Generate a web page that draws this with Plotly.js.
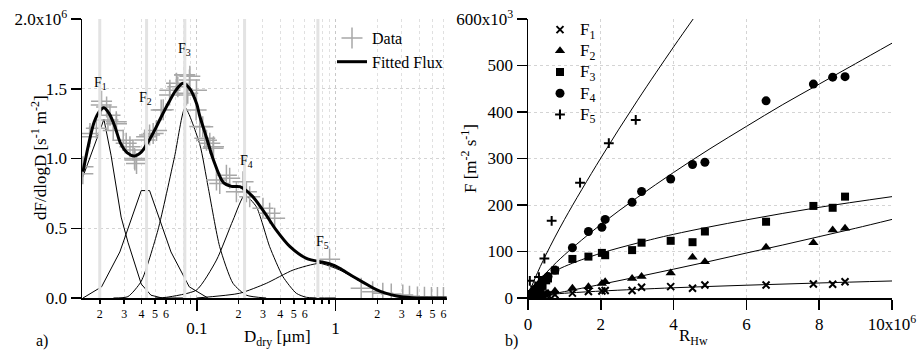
<!DOCTYPE html>
<html><head><meta charset="utf-8">
<script src="https://cdn.plot.ly/plotly-3.0.1.min.js"></script>
<style>html,body{margin:0;padding:0;background:#fff}#c{width:917px;height:363px}</style>
</head><body><div id="c"></div>
<script>
// ---------- Panel a) : size-resolved flux ----------
const dataD = [0.0151,0.01514,0.0169,0.0170,0.0189,0.0205,0.0206,0.0224,0.0229,0.0237,0.0250,0.0263,0.0264,0.0295,0.0310,0.0330,0.0347,0.0356,0.0358,0.0368,0.0421,0.0435,0.0457,0.0485,0.0513,0.0554,0.0573,0.0637,0.0640,0.0714,0.0730,0.0816,0.0820,0.0843,0.0861,0.0886,0.0891,0.0989,0.0995,0.1051,0.1104,0.1142,0.1175,0.1241,0.1310,0.1320,0.1386,0.1464,0.1635,0.1726,0.1930,0.2155,0.2278,0.2406,0.2998,0.3350,0.3639,0.906,1.53,1.85,2.19,2.52,3.05,3.41,3.89,4.37,4.91,5.42,5.99];
const dataF = [0.89,0.94,1.156,1.18,1.216,1.383,1.41,1.37,1.276,1.31,1.20,1.264,1.25,1.13,1.109,1.085,1.061,1.0,0.99,0.965,1.133,1.156,1.168,1.18,1.20,1.348,1.35,1.455,1.49,1.54,1.515,1.599,1.60,1.455,1.467,1.563,1.59,1.348,1.49,1.23,1.228,1.145,1.13,1.109,1.073,1.085,0.846,0.82,0.88,0.858,0.762,0.834,0.762,0.726,0.643,0.607,0.571,0.277,0.069,0.045,0.034,0.029,0.022,0.012,0.008,0.005,0.004,0.003,0.003];

const fitD = [0.01514,0.0166,0.0182,0.01995,0.0214,0.02344,0.0257,0.0282,0.0316,0.0355,0.0398,0.0447,0.0501,0.0562,0.0631,0.0708,0.0794,0.0891,0.1,0.1047,0.1175,0.1318,0.1549,0.1778,0.2042,0.2512,0.309,0.3715,0.4677,0.6166,0.8128,0.912,1.072,1.259,1.479,1.698,1.95,2.291,2.754,3.548,4.467,6.31];
const fitF = [0.905,1.10,1.26,1.34,1.364,1.32,1.23,1.11,1.04,1.018,1.045,1.12,1.21,1.31,1.405,1.49,1.539,1.50,1.39,1.31,1.15,0.99,0.83,0.80,0.798,0.73,0.61,0.49,0.37,0.284,0.256,0.244,0.213,0.17,0.129,0.095,0.062,0.035,0.014,0.002,0,0];

const m1D = [0.01514,0.02143,0.02415,0.02851,0.03192,0.03631,0.03981,0.04677,0.05623,0.07943];
const m1F = [0.87,1.281,1.02,0.58,0.40,0.22,0.10,0.02,0,0];
const m2D = [0.01514,0.0206,0.0279,0.0398,0.0457,0.0652,0.0883,0.1202];
const m2F = [0,0.08,0.33,0.77,0.77,0.33,0.08,0];
const m3D = [0.0251,0.0319,0.0398,0.0525,0.0692,0.0824,0.1052,0.1205,0.1462,0.1824,0.2280,0.3162];
const m3F = [0,0.01,0.12,0.487,1.013,1.364,1.10,0.80,0.368,0.105,0.02,0];
const m4D = [0.0501,0.0605,0.0995,0.1387,0.1824,0.2213,0.2685,0.3350,0.4178,0.5212,0.6166,1.0];
const m4F = [0,0.005,0.057,0.272,0.558,0.736,0.655,0.368,0.153,0.034,0.005,0];
const m5D = [0.1,0.2037,0.3170,0.4932,0.7674,1.072,1.479,1.950,2.754,3.981];
const m5F = [0,0.034,0.105,0.20,0.248,0.20,0.125,0.06,0.014,0];

const modeCenters = [0.0200,0.0435,0.0820,0.2210,0.746];
const modeLabelD = [0.0204,0.0430,0.0820,0.2270,0.806];
const modeLabelF = [1.54,1.43,1.78,0.975,0.40];
const modeNames = ['F<sub>1</sub>','F<sub>2</sub>','F<sub>3</sub>','F<sub>4</sub>','F<sub>5</sub>'];

const xMajorVals = [0.1,1];
const xMajorText = ['0.1','1'];
const xMinorVals = [0.02,0.03,0.04,0.05,0.06,0.07,0.08,0.09,0.2,0.3,0.4,0.5,0.6,0.7,0.8,0.9,2,3,4,5,6];
const xMinorText = ['2','3','4','5','6','','','','2','3','4','5','6','','','','2','3','4','5','6'];
const yaVals = [0,0.5e6,1e6,1.5e6,2e6];
const yaText = ['0.0','0.5','1.0','1.5','2.0x10<sup>6</sup>'];

// ---------- Panel b) : flux vs R_Hw (x in 10^6, y in 10^3) ----------
const rX = [0.05,0.1,0.15,0.2,0.25,0.3,0.35,0.4,0.5,0.55,0.74,1.22,1.66,2.03,2.12,2.86,3.12,3.92,4.52,4.86,6.54,7.84,8.37,8.71];
const rF1 = [1,2,2.5,3,3.5,4,4.5,5,6,6.5,7,10.5,14,15,16,16,23,24.5,21,28,28,30,29.6,35];
const rF2 = [1.5,3,4,5,6,7,8,9,9,10,15,21,24,31,35,42,46,54,87.5,78,109,119,146,150];
const rF3 = [3,6,9,12,15,18,22,26,38,42,59,84,89,97,92,103,119,123,120,143,164,198,194,218];
const rF4 = [5,10,14,18,22,27,31,36,42,46,60,108,143,152,169,206,229,256,287,292,424,460,475,476];
const rX5 = [0.05,0.1,0.2,0.3,0.45,0.65,1.43,2.22,2.96];
const rF5 = [37,15,25,45,85,166,248,333,383];
const seriesNames = ['F<sub>1</sub>','F<sub>2</sub>','F<sub>3</sub>','F<sub>4</sub>','F<sub>5</sub>'];

const fitX1 = [0,0.1,0.5,1,2,4,6,8,10];
const fitY1 = [0,2.85,6.9,10.2,14.9,22,27.5,32.3,36.6];
const fitX2 = [0,0.5,1,2,3,4,5,6,7,8,9,10];
const fitY2 = [0,6.4,13.7,29.2,45.4,62,79,96.7,114,132,150,169];
const fitX3 = [0,0.05,0.2,0.5,1,2,3,4,6,8,10];
const fitY3 = [0,14.8,29.9,47.6,67.7,96.3,118,137,168,195,218];
const fitX4 = [0,0.1,0.3,0.6,1,2,3,4,5,6,7,8,9,10];
const fitY4 = [0,15.7,36.6,62.4,92.6,158,216,270,321,369,416,460,504,548];
const fitX5 = [0,0.05,0.2,0.5,1,2,3,4,4.6];
const fitY5 = [0,13.6,43.6,94,168.5,301,424,540,607];

const xbVals = [0,2,4,6,8,10];
const xbText = ['0','2','4','6','8','10x10<sup>6</sup>'];
const ybVals = [0,100,200,300,400,500,600];
const ybText = ['0','100','200','300','400','500','600x10<sup>3</sup>'];

// ---------- build ----------
const FONT = 'Liberation Serif';
const sc = v => v.map(a => a*1e6);
const big = t => '<span style="font-size:17px">' + t + '</span>';
const vx = [], vy = [];
modeCenters.forEach(d => { vx.push(d,d,null); vy.push(0,2e6,null); });

const traces = [
  {x:vx, y:vy, mode:'lines', line:{color:'#e3e3e3', width:3}, showlegend:false, hoverinfo:'skip', xaxis:'x3', yaxis:'y'},
  {x:m1D, y:sc(m1F), mode:'lines', line:{color:'#000', width:1}, showlegend:false, xaxis:'x', yaxis:'y'},
  {x:m2D, y:sc(m2F), mode:'lines', line:{color:'#000', width:1}, showlegend:false, xaxis:'x', yaxis:'y'},
  {x:m3D, y:sc(m3F), mode:'lines', line:{color:'#000', width:1, shape:'spline', smoothing:0.6}, showlegend:false, xaxis:'x', yaxis:'y'},
  {x:m4D, y:sc(m4F), mode:'lines', line:{color:'#000', width:1, shape:'spline', smoothing:0.6}, showlegend:false, xaxis:'x', yaxis:'y'},
  {x:m5D, y:sc(m5F), mode:'lines', line:{color:'#000', width:1, shape:'spline', smoothing:0.6}, showlegend:false, xaxis:'x', yaxis:'y'},
  {x:dataD, y:sc(dataF), name:'Data', mode:'markers', legend:'legend',
   marker:{symbol:'cross-thin', size:15, color:'#a8a8a8', line:{color:'#a8a8a8', width:1.5}}, xaxis:'x', yaxis:'y'},
  {x:fitD, y:sc(fitF), name:'Fitted Flux', mode:'lines', legend:'legend',
   line:{color:'#000', width:3, shape:'spline', smoothing:0.8}, xaxis:'x', yaxis:'y'},
  // panel b fits
  {x:fitX1, y:fitY1, mode:'lines', line:{color:'#000', width:1, shape:'spline'}, showlegend:false, xaxis:'x2', yaxis:'y2'},
  {x:fitX2, y:fitY2, mode:'lines', line:{color:'#000', width:1, shape:'spline'}, showlegend:false, xaxis:'x2', yaxis:'y2'},
  {x:fitX3, y:fitY3, mode:'lines', line:{color:'#000', width:1, shape:'spline'}, showlegend:false, xaxis:'x2', yaxis:'y2'},
  {x:fitX4, y:fitY4, mode:'lines', line:{color:'#000', width:1, shape:'spline'}, showlegend:false, xaxis:'x2', yaxis:'y2'},
  {x:fitX5, y:fitY5, mode:'lines', line:{color:'#000', width:1, shape:'spline'}, showlegend:false, xaxis:'x2', yaxis:'y2'},
  {x:rX, y:rF1, name:big(seriesNames[0]), mode:'markers', legend:'legend2', marker:{symbol:'x-thin', size:7, color:'#000', line:{color:'#000', width:2}}, xaxis:'x2', yaxis:'y2'},
  {x:rX, y:rF2, name:big(seriesNames[1]), mode:'markers', legend:'legend2', marker:{symbol:'triangle-up', size:9, color:'#000'}, xaxis:'x2', yaxis:'y2'},
  {x:rX, y:rF3, name:big(seriesNames[2]), mode:'markers', legend:'legend2', marker:{symbol:'square', size:8, color:'#000'}, xaxis:'x2', yaxis:'y2'},
  {x:rX, y:rF4, name:big(seriesNames[3]), mode:'markers', legend:'legend2', marker:{symbol:'circle', size:9, color:'#000'}, xaxis:'x2', yaxis:'y2'},
  {x:rX5, y:rF5, name:big(seriesNames[4]), mode:'markers', legend:'legend2', marker:{symbol:'cross-thin', size:7, color:'#000', line:{color:'#000', width:2}}, xaxis:'x2', yaxis:'y2'}
];

const gridC = '#d4d4d4';
const baseAx = {showline:true, linecolor:'#000', linewidth:1.5, ticks:'outside', tickcolor:'#000', tickwidth:1.5,
  zeroline:false, showgrid:true, gridcolor:gridC, griddash:'dot', gridwidth:1, tickfont:{family:FONT, size:17, color:'#000'}, tickmode:'array'};

const annotations = [];
modeNames.forEach((t,i) => annotations.push({x:Math.log10(modeLabelD[i]), y:modeLabelF[i]*1e6, xref:'x', yref:'y', text:t, showarrow:false, font:{family:FONT, size:14, color:'#000'}}));
annotations.push(
  {x:26/917, y:1-158/363, xref:'paper', yref:'paper', text:'dF/dlogD [s<sup>-1</sup> m<sup>-2</sup>]', textangle:-90, showarrow:false, font:{family:FONT, size:17, color:'#000'}},
  {x:469/917, y:1-158/363, xref:'paper', yref:'paper', text:'F [m<sup>-2</sup> s<sup>-1</sup>]', textangle:-90, showarrow:false, font:{family:FONT, size:17, color:'#000'}},
  {x:242/917, y:1-351/363, xref:'paper', yref:'paper', text:'D<sub>dry</sub> [µm]', showarrow:false, font:{family:FONT, size:17, color:'#000'}},
  {x:710/917, y:1-350/363, xref:'paper', yref:'paper', text:'R<sub>Hw</sub>', showarrow:false, font:{family:FONT, size:17, color:'#000'}},
  {x:34/917, y:1-352/363, xref:'paper', yref:'paper', text:'a)', showarrow:false, font:{family:FONT, size:16, color:'#000'}},
  {x:511/917, y:1-352/363, xref:'paper', yref:'paper', text:'b)', showarrow:false, font:{family:FONT, size:16, color:'#000'}}
);

const xr = [-1.827, 0.803];
const layout = {
  width:917, height:363, margin:{l:0,r:0,t:0,b:0}, paper_bgcolor:'#fff', plot_bgcolor:'#fff',
  font:{family:FONT, color:'#000'},
  xaxis: Object.assign({}, baseAx, {domain:[82/917, 447/917], type:'log', range:xr, anchor:'y',
    tickvals:xMajorVals, ticktext:xMajorText, ticklen:11, ticklabelstandoff:3, gridcolor:'#c8c8c8'}),
  xaxis3: Object.assign({}, baseAx, {domain:[82/917, 447/917], type:'log', range:xr, overlaying:'x', anchor:'y', side:'bottom',
    showline:false, tickvals:xMinorVals, ticktext:xMinorText, ticklen:5, gridcolor:'#e0e0e0', tickfont:{family:FONT, size:12, color:'#000'}}),
  yaxis: Object.assign({}, baseAx, {domain:[1-298/363, 1-19/363], range:[0,2e6], anchor:'x',
    tickvals:yaVals, ticktext:yaText, ticklen:10}),
  xaxis2: Object.assign({}, baseAx, {domain:[528/917, 892/917], range:[0,10], anchor:'y2',
    tickvals:xbVals, ticktext:xbText, ticklen:10}),
  yaxis2: Object.assign({}, baseAx, {domain:[1-298/363, 1-19/363], range:[0,600], anchor:'x2',
    tickvals:ybVals, ticktext:ybText, ticklen:10}),
  legend:{x:332/917, y:1-21/363, xanchor:'left', yanchor:'top', bgcolor:'rgba(0,0,0,0)', borderwidth:0,
    font:{family:FONT, size:16, color:'#000'}, itemwidth:30, tracegroupgap:0},
  legend2:{x:540/917, y:1-14/363, xanchor:'left', yanchor:'top', bgcolor:'rgba(0,0,0,0)', borderwidth:0,
    font:{family:FONT, size:14, color:'#000'}, itemwidth:30, tracegroupgap:0},
  annotations: annotations,
  showlegend:true
};
Plotly.newPlot('c', traces, layout, {staticPlot:true, displayModeBar:false});
</script></body></html>
